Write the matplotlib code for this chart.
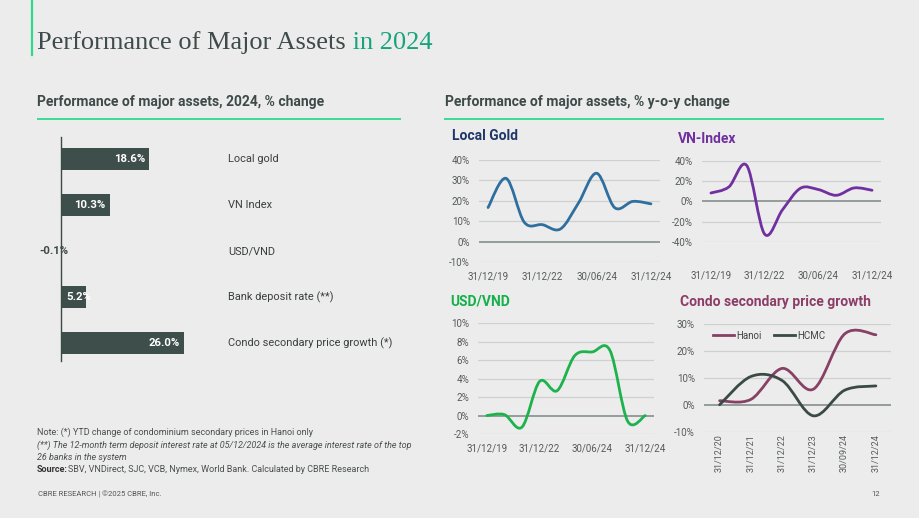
import numpy as np
import matplotlib
matplotlib.use("Agg")
import matplotlib.pyplot as plt
from matplotlib.path import Path
from matplotlib.patches import PathPatch
from matplotlib.lines import Line2D
from matplotlib.text import Annotation
from matplotlib.transforms import offset_copy, blended_transform_factory

plt.rcParams['font.family'] = ['Roboto', 'DejaVu Sans']

# ---------------- data ----------------
bar_categories = ["Local gold", "VN Index", "USD/VND", "Bank deposit rate (**)",
                  "Condo secondary price growth (*)"]
bar_values = [18.6, 10.3, -0.1, 5.2, 26.0]

dates10 = ["31/12/19", "31/12/20", "31/12/21", "31/12/22", "30/06/23",
           "31/12/23", "30/06/24", "31/08/24", "31/10/24", "31/12/24"]
tick_labels10 = ["31/12/19", "31/12/22", "30/06/24", "31/12/24"]

gold_values = [16.7, 31.0, 9.5, 8.3, 6.2, 19.0, 33.5, 16.6, 19.7, 18.5]
vn_values = [8.3, 14.3, 35.5, -32.5, -8.3, 13.0, 11.7, 6.0, 13.3, 11.0]
usd_values = [0.0, 0.1, -1.25, 3.7, 2.7, 6.5, 6.9, 7.05, -0.6, 0.0]

condo_dates = ["31/12/20", "31/12/21", "31/12/22", "31/12/23", "30/09/24", "31/12/24"]
hanoi_values = [1.5, 2.0, 13.5, 5.8, 26.3, 26.0]
hcmc_values = [0.0, 10.5, 9.0, -4.1, 5.4, 7.0]

# ---------------- figure ----------------
W, H = 920, 518
fig = plt.figure(figsize=(W / 100, H / 100), dpi=100)
fig.patch.set_facecolor('#ececec')

def fx(x):
    return x / W

def fy(y):
    return 1 - y / H

def add_axes_px(x0, y0, x1, y1):
    return fig.add_axes([fx(x0), fy(y1), (x1 - x0) / W, (y1 - y0) / H])

DARK = '#3d4a48'
GREEN_LINE = '#38dc95'
HEAD = 10

# header
fig.add_artist(Line2D([fx(32), fx(32)], [fy(0), fy(55)], color='#2fd98c', lw=1.6))
t1 = fig.text(fx(37), fy(54), "Performance of Major Assets", family='Liberation Serif',
              fontsize=19, color='#3e4b4a', va='bottom')
fig.add_artist(Annotation(" in 2024", xy=(1, 0), xycoords=t1, va='bottom', ha='left',
                          family='Liberation Serif', fontsize=19, color='#17a37b',
                          annotation_clip=False))

fig.text(fx(37), fy(102), "Performance of major assets, 2024, % change", fontsize=HEAD,
         fontweight='bold', color=DARK, va='center')
fig.add_artist(Line2D([fx(38), fx(400)], [fy(119), fy(119)], color=GREEN_LINE, lw=1.4))
fig.text(fx(445), fy(102), "Performance of major assets, % y-o-y change", fontsize=HEAD,
         fontweight='bold', color=DARK, va='center')
fig.add_artist(Line2D([fx(445), fx(883)], [fy(119), fy(119)], color=GREEN_LINE, lw=1.4))

# ---------------- bar chart ----------------
axb = add_axes_px(61, 137, 61 + 189.2, 360.5)
axb.set_facecolor('none')
ypos = np.arange(len(bar_values))
axb.barh(ypos, bar_values, height=0.48, color='#3e4f4b')
axb.set_xlim(0, 40)
axb.set_ylim(4.38, -0.48)
for s in ['top', 'right', 'bottom']:
    axb.spines[s].set_visible(False)
axb.spines['left'].set_color('#3a4a46')
axb.spines['left'].set_linewidth(1.0)
axb.set_xticks([])
axb.set_yticks([])
lab_tr = blended_transform_factory(fig.transFigure, axb.transData)
for i, v in enumerate(bar_values):
    if v >= 8:
        tr = offset_copy(axb.transData, fig=fig, x=-4, y=0, units='dots')
        axb.text(v, i, f"{v:.1f}%", transform=tr, ha='right', va='center', color='white',
                 fontsize=8.2, fontweight='bold')
    elif v >= 0:
        tr = offset_copy(axb.transData, fig=fig, x=5, y=0, units='dots')
        axb.text(0, i, f"{v:.1f}%", transform=tr, ha='left', va='center', color='white',
                 fontsize=8.2, fontweight='bold')
    else:
        tr = offset_copy(axb.transData, fig=fig, x=7, y=0, units='dots')
        axb.text(0, i, f"{v:.1f}%", transform=tr, ha='right', va='center', color=DARK,
                 fontsize=8.2, fontweight='bold', clip_on=False)
    axb.text(fx(228), i, bar_categories[i], fontsize=7.9, color='#3a3f3e', va='center',
             ha='left', transform=lab_tr)

# ---------------- small line charts ----------------
def smooth_path(xs, ys):
    pts = np.column_stack([xs, ys]).astype(float)
    n = len(pts)
    verts = [pts[0]]
    codes = [Path.MOVETO]
    for i in range(n - 1):
        p0 = pts[i - 1] if i > 0 else pts[i]
        p1 = pts[i]
        p2 = pts[i + 1]
        p3 = pts[i + 2] if i + 2 < n else pts[i + 1]
        c1 = p1 + (p2 - p0) / 6.0
        c2 = p2 - (p3 - p1) / 6.0
        verts += [c1, c2, p2]
        codes += [Path.CURVE4] * 3
    return Path(verts, codes)

def style_small(ax, yticks, ylim, n, xpad):
    ax.set_facecolor('none')
    ax.set_xlim(-0.5, n - 0.5)
    ax.set_ylim(*ylim)
    ax.set_yticks(yticks)
    ax.set_yticklabels([f"{v:g}%" for v in yticks])
    for s in ax.spines.values():
        s.set_visible(False)
    for v in yticks:
        ax.axhline(v, color='#7d8784' if v == 0 else '#cdd1d0',
                   lw=1.1 if v == 0 else 0.9, zorder=0)
    ax.tick_params(axis='both', length=0, labelsize=7, labelcolor='#555b5a')
    ax.tick_params(axis='y', pad=6.5)
    ax.tick_params(axis='x', pad=xpad)

def draw_line(ax, ys, color):
    xs = np.arange(len(ys))
    ax.add_patch(PathPatch(smooth_path(xs, ys), fill=False, edgecolor=color, lw=2.0,
                           capstyle='round', joinstyle='round', zorder=3))

def set_date_ticks(ax, dates, labels):
    idx = [dates.index(l) for l in labels]
    ax.set_xticks(idx)
    ax.set_xticklabels(labels)

# Local Gold
axg = add_axes_px(479, 160, 660, 262)
style_small(axg, [-10, 0, 10, 20, 30, 40], (-10, 40), len(gold_values), 6.5)
draw_line(axg, gold_values, '#2f6f9f')
set_date_ticks(axg, dates10, tick_labels10)
fig.text(fx(452), fy(136), "Local Gold", fontsize=HEAD, fontweight='bold', color='#1f3767', va='center')

# VN-Index
axv = add_axes_px(702, 161, 881, 241.7)
style_small(axv, [-40, -20, 0, 20, 40], (-40, 40), len(vn_values), 21)
draw_line(axv, vn_values, '#7030a0')
set_date_ticks(axv, dates10, tick_labels10)
fig.text(fx(678), fy(139), "VN-Index", fontsize=HEAD, fontweight='bold', color='#7030a0', va='center')

# USD/VND
axu = add_axes_px(478, 323.3, 654, 434)
style_small(axu, [-2, 0, 2, 4, 6, 8, 10], (-2, 10), len(usd_values), 6.5)
draw_line(axu, usd_values, '#1db24b')
set_date_ticks(axu, dates10, tick_labels10)
fig.text(fx(450), fy(302), "USD/VND", fontsize=HEAD, fontweight='bold', color='#14b04a', va='center')

# Condo
axc = add_axes_px(704, 324, 891.5, 431.7)
style_small(axc, [-10, 0, 10, 20, 30], (-10, 30), len(hanoi_values), 2)
draw_line(axc, hanoi_values, '#874164')
draw_line(axc, hcmc_values, '#3a4a44')
axc.set_xticks(range(len(condo_dates)))
axc.set_xticklabels(condo_dates, rotation=90, fontsize=6.5)
fig.text(fx(680), fy(302), "Condo secondary price growth", fontsize=HEAD, fontweight='bold',
         color='#8b3d67', va='center')
handles = [Line2D([], [], color='#874164', lw=2), Line2D([], [], color='#3a4a44', lw=2)]
axc.legend(handles, ["Hanoi", "HCMC"], loc='upper left', bbox_to_anchor=(0.0, 1.02), ncol=2,
           frameon=False, fontsize=7, handlelength=2.2, handletextpad=0.2, columnspacing=1.3,
           labelcolor='#444')

# ---------------- footer ----------------
NOTE = '#4a4f4e'
fig.text(fx(37), fy(432), "Note: (*) YTD change of condominium secondary prices in Hanoi only",
         fontsize=6.5, color=NOTE, va='center')
fig.text(fx(37), fy(445),
         "(**) The 12-month term deposit interest rate at 05/12/2024 is the average interest rate of the top",
         fontsize=6.5, color=NOTE, va='center', style='italic')
fig.text(fx(37), fy(457), "26 banks in the system", fontsize=6.5, color=NOTE, va='center', style='italic')
s1 = fig.text(fx(37), fy(470), "Source:", fontsize=6.5, color='#333', va='center', fontweight='bold')
fig.add_artist(Annotation("SBV, VNDirect, SJC, VCB, Nymex, World Bank. Calculated by CBRE Research",
                          xy=(1, 0.5), xycoords=s1, va='center', ha='left', fontsize=6.5,
                          color=NOTE, annotation_clip=False))
fig.text(fx(38), fy(494), "CBRE RESEARCH | \u00a92025 CBRE, Inc.", fontsize=5.5, color='#555', va='center')
fig.text(fx(880), fy(494), "12", fontsize=5.5, color='#555', va='center', ha='right')

fig.savefig("out.png", dpi=100, facecolor=fig.get_facecolor())
